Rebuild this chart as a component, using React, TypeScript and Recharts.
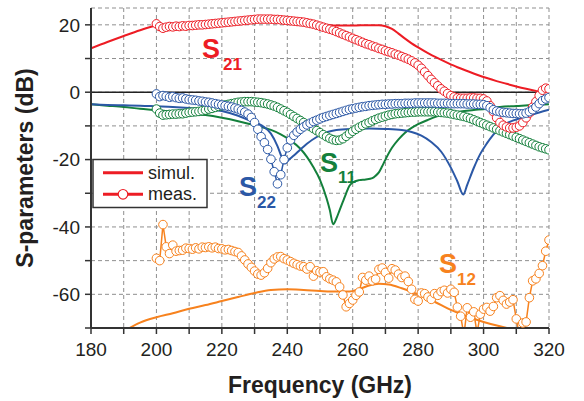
import React from 'react';
import { ComposedChart, Line, XAxis, YAxis, CartesianGrid, ReferenceLine } from 'recharts';

const FONT = '"Liberation Sans", Arial, Helvetica, sans-serif';
const RED = '#ed1c24';
const BLUE = '#2b58a6';
const GREEN = '#14803c';
const ORANGE = '#f7821e';
const INK = '#231f20';

const freqTicks = [180, 190, 200, 210, 220, 230, 240, 250, 260, 270, 280, 290, 300, 310, 320];
const dbTicks = [-70, -60, -50, -40, -30, -20, -10, 0, 10, 20];

// measured sweep, 1 GHz steps
const measFreq = [
  200, 201, 202, 203, 204, 205, 206, 207, 208, 209,
  210, 211, 212, 213, 214, 215, 216, 217, 218, 219,
  220, 221, 222, 223, 224, 225, 226, 227, 228, 229,
  230, 231, 232, 233, 234, 235, 236, 237, 238, 239,
  240, 241, 242, 243, 244, 245, 246, 247, 248, 249,
  250, 251, 252, 253, 254, 255, 256, 257, 258, 259,
  260, 261, 262, 263, 264, 265, 266, 267, 268, 269,
  270, 271, 272, 273, 274, 275, 276, 277, 278, 279,
  280, 281, 282, 283, 284, 285, 286, 287, 288, 289,
  290, 291, 292, 293, 294, 295, 296, 297, 298, 299,
  300, 301, 302, 303, 304, 305, 306, 307, 308, 309,
  310, 311, 312, 313, 314, 315, 316, 317, 318, 319,
  320,
];

const s21Meas = [
  20.3, 19.5, 19.0, 19.3, 19.5, 19.4, 19.6, 19.5, 19.7, 19.6,
  19.8, 19.8, 19.9, 20.0, 20.0, 20.1, 20.2, 20.3, 20.4, 20.5,
  20.6, 20.7, 20.8, 20.9, 21.0, 21.1, 21.2, 21.3, 21.4, 21.5,
  21.6, 21.7, 21.7, 21.7, 21.7, 21.7, 21.6, 21.6, 21.5, 21.4,
  21.3, 21.2, 21.1, 21.0, 20.9, 20.8, 20.6, 20.4, 20.2, 19.9,
  19.6, 19.3, 19.0, 18.7, 18.4, 18.0, 17.6, 17.2, 16.8, 16.4,
  16.0, 15.6, 15.2, 14.8, 14.4, 14.1, 13.7, 13.4, 13.0, 12.7,
  12.3, 12.0, 11.7, 11.3, 11.0, 10.6, 10.2, 9.8, 9.3, 8.7,
  8.0, 7.1, 6.0, 4.9, 3.8, 2.8, 1.9, 1.0, 0.3, -0.4,
  -1.0, -1.4, -1.7, -1.8, -1.8, -1.8, -1.7, -1.7, -1.8, -1.8,
  -2.0, -2.6, -4.0, -5.8, -7.6, -9.0, -9.8, -10.3, -10.6, -10.6,
  -10.4, -10.0, -9.0, -7.6, -6.2, -4.4, -2.8, -1.0, 0.6, 1.2,
  1.0,
];

const s22Meas = [
  -0.5, -1.3, -1.0, -1.2, -1.5, -1.3, -1.6, -1.8, -1.7, -2.0,
  -2.2, -2.3, -2.4, -2.6, -2.7, -2.9, -3.0, -3.2, -3.4, -3.6,
  -3.8, -4.0, -4.2, -4.4, -4.7, -5.0, -5.4, -5.9, -6.5, -7.5,
  -9.0, -11.0, -13.2, -15.0, -17.0, -19.9, -23.6, -27.2, -24.5, -20.0,
  -16.5, -14.2, -12.8, -11.8, -11.0, -10.3, -9.7, -9.2, -8.7, -8.3,
  -7.9, -7.5, -7.2, -6.9, -6.6, -6.3, -6.0, -5.7, -5.4, -5.1,
  -4.9, -4.7, -4.5, -4.3, -4.2, -4.0, -3.9, -3.8, -3.7, -3.6,
  -3.6, -3.5, -3.5, -3.4, -3.4, -3.4, -3.3, -3.3, -3.3, -3.2,
  -3.2, -3.2, -3.2, -3.2, -3.2, -3.2, -3.3, -3.3, -3.3, -3.3,
  -3.4, -3.4, -3.4, -3.4, -3.4, -3.5, -3.5, -3.5, -3.6, -3.6,
  -3.7, -4.0, -4.6, -5.2, -5.6, -5.8, -6.0, -6.1, -6.2, -6.3,
  -6.3, -6.4, -6.4, -6.2, -5.8, -5.2, -4.4, -3.4, -2.5, -2.0,
  -1.6,
];

const s11Meas = [
  -5.0, -6.2, -6.8, -6.7, -6.6, -6.5, -6.5, -6.4, -6.4, -6.2,
  -6.0, -5.9, -5.8, -5.7, -5.5, -5.3, -5.0, -4.8, -4.5, -4.2,
  -4.0, -3.8, -3.6, -3.4, -3.2, -3.0, -2.9, -2.8, -2.8, -2.8,
  -2.9, -3.0, -3.1, -3.3, -3.5, -3.8, -4.1, -4.5, -5.0, -5.5,
  -6.0, -6.6, -7.2, -7.8, -8.4, -9.0, -9.6, -10.2, -10.8, -11.4,
  -12.0, -12.6, -13.2, -13.7, -14.1, -14.3, -14.2, -13.8, -13.1, -12.3,
  -11.6, -11.0, -10.4, -9.9, -9.4, -9.0, -8.5, -8.1, -7.7, -7.4,
  -7.1, -6.8, -6.6, -6.4, -6.3, -6.2, -6.1, -6.0, -5.9, -5.9,
  -5.8, -5.8, -5.8, -5.8, -5.8, -5.8, -5.9, -6.0, -6.1, -6.2,
  -6.4, -6.6, -6.8, -7.0, -7.2, -7.5, -7.8, -8.2, -8.6, -9.0,
  -9.4, -9.8, -10.2, -10.6, -11.0, -11.4, -11.8, -12.2, -12.6, -13.0,
  -13.4, -13.8, -14.2, -14.6, -15.0, -15.4, -15.8, -16.2, -16.5, -16.8,
  -17.1,
];

const s12Meas = [
  -49.3, -50.0, -39.3, -45.9, -47.9, -45.4, -47.2, -47.0, -46.9, -46.3,
  -46.4, -46.6, -46.2, -46.5, -46.0, -46.1, -45.9, -46.2, -46.0, -46.4,
  -46.5, -46.8, -46.7, -47.0, -47.3, -47.6, -48.6, -49.8, -51.0, -52.0,
  -53.1, -54.0, -54.3, -53.6, -52.3, -50.6, -49.5, -48.9, -48.8, -49.4,
  -49.8, -50.3, -50.8, -51.2, -51.6, -51.8, -52.5, -51.8, -54.6, -53.0,
  -53.4, -53.3, -54.8, -55.4, -55.8, -56.3, -57.8, -60.2, -63.7, -62.7,
  -61.7, -60.3, -59.3, -55.0, -55.8, -54.6, -56.0, -55.5, -52.6, -52.2,
  -53.5, -55.2, -52.4, -52.8, -54.0, -55.0, -54.6, -56.2, -58.5, -61.5,
  -62.0, -59.6, -59.8, -60.8, -61.5, -59.8, -60.3, -59.2, -58.8, -59.6,
  -58.5, -59.4, -63.8, -66.5, -72.0, -64.0, -66.8, -65.2, -71.5, -65.9,
  -64.4, -63.9, -65.0, -63.6, -61.0, -60.4, -61.8, -62.9, -62.3, -61.6,
  -67.3, -72.5, -68.5, -68.2, -61.0, -56.0, -55.4, -53.8, -51.5, -47.2,
  -43.9,
];

// simulations
const s21SimFreq = [180, 185, 190, 195, 200, 205, 210, 215, 220, 225, 230, 235, 240, 245, 250, 255, 260, 265, 268, 270, 272, 274, 276, 278, 280, 283, 286, 289, 292, 295, 298, 301, 304, 307, 310, 313, 316, 318, 320];
const s21Sim = [13.0, 14.9, 16.7, 18.4, 19.8, 20.2, 20.5, 20.8, 21.1, 21.3, 21.5, 21.4, 21.0, 20.4, 20.0, 19.8, 19.8, 19.9, 19.9, 19.6, 18.8, 17.4, 15.9, 14.5, 13.3, 11.6, 10.1, 8.7, 7.4, 6.3, 5.2, 4.2, 3.3, 2.5, 1.7, 1.0, 0.4, 0.1, 0.1];

const s11SimFreq = [180, 185, 190, 195, 200, 205, 210, 215, 220, 225, 230, 235, 238, 241, 244, 246, 248, 250, 252, 253, 254, 255, 256, 257, 258, 259, 260, 262, 264, 266, 267, 268, 269, 270, 272, 274, 276, 278, 280, 283, 286, 289, 293, 297, 301, 305, 310, 315, 320];
const s11Sim = [-3.6, -4.0, -4.4, -4.9, -5.3, -5.8, -6.3, -6.8, -7.6, -8.6, -9.8, -11.2, -12.5, -14.3, -16.8, -19.2, -22.3, -26.0, -31.5, -35.0, -39.2, -37.5, -35.0, -32.5, -30.0, -27.8, -26.8, -26.1, -25.9, -25.5, -24.8, -23.8, -22.0, -20.0, -16.5, -14.0, -12.0, -10.6, -9.5, -8.2, -7.1, -6.3, -5.7, -5.3, -4.9, -4.4, -4.1, -3.8, -3.6];

const s22SimFreq = [180, 185, 190, 195, 200, 205, 210, 215, 220, 225, 228, 231, 233, 235, 237, 238.3, 239.3, 240.3, 242, 244, 246, 249, 252, 255, 260, 265, 270, 275, 278, 281, 284, 287, 290, 292, 293.8, 295, 297, 299, 301, 303, 305, 308, 311, 314, 317, 320];
const s22Sim = [-3.6, -3.8, -3.9, -4.0, -4.2, -4.4, -4.7, -5.1, -5.6, -7.0, -8.2, -9.3, -10.4, -12.3, -16.0, -19.3, -21.2, -20.2, -18.8, -17.0, -15.3, -13.3, -11.9, -11.2, -10.9, -10.8, -10.9, -11.2, -11.8, -12.9, -14.8, -17.6, -22.4, -26.5, -30.4, -27.5, -22.5, -18.3, -15.2, -12.6, -10.4, -8.8, -7.8, -6.9, -6.0, -5.2];

const s12SimFreq = [190, 195, 200, 205, 210, 215, 220, 225, 230, 235, 240, 245, 250, 255, 259, 262, 265, 268, 271, 275, 280, 285, 290, 295, 300, 305, 310, 315, 320];
const s12Sim = [-71.0, -68.4, -66.8, -65.6, -64.3, -63.2, -62.0, -60.8, -59.6, -58.7, -58.5, -58.7, -59.0, -59.2, -59.2, -58.4, -57.4, -56.9, -57.1, -58.2, -60.0, -62.2, -64.6, -66.6, -68.2, -69.5, -70.6, -71.5, -72.0];

const pts = (xs: number[], ys: number[]) => xs.map((f, i) => ({ f, v: ys[i] }));

const measDot = (c: string) => ({ r: 4.3, fill: '#fff', stroke: c, strokeWidth: 1 });

const tickStyle = { fontSize: 19, fill: INK, fontFamily: FONT };
const axisStroke = { stroke: '#333', strokeWidth: 2 };

export default function App() {
  return (
    <div style={{ position: 'absolute', left: 0, top: 0, width: 584, height: 401, background: '#fff' }}>
      <ComposedChart width={584} height={401} margin={{ top: 8, right: 35, bottom: 28, left: 0 }}>
        <CartesianGrid stroke="#8f8f8f" strokeDasharray="4 3" strokeWidth={1} />
        <XAxis
          dataKey="f"
          type="number"
          domain={[180, 320]}
          ticks={freqTicks}
          allowDataOverflow
          tickFormatter={(v: number) => (v % 20 === 0 ? String(v) : '')}
          tick={tickStyle}
          tickSize={6}
          tickMargin={9}
          tickLine={{ stroke: '#333', strokeWidth: 1.5 }}
          axisLine={axisStroke}
          height={45}
        />
        <XAxis xAxisId="top" orientation="top" type="number" domain={[180, 320]} height={0} tick={false} axisLine={axisStroke} />
        <YAxis
          domain={[-70, 25]}
          ticks={dbTicks}
          allowDataOverflow
          tickFormatter={(v: number) => (v % 20 === 0 ? String(v) : '')}
          tick={tickStyle}
          tickSize={6}
          tickMargin={5}
          tickLine={{ stroke: '#333', strokeWidth: 1.5 }}
          axisLine={axisStroke}
          width={91}
        />
        <YAxis
          yAxisId="right"
          orientation="right"
          mirror
          width={0}
          domain={[-70, 25]}
          ticks={dbTicks}
          allowDataOverflow
          tickFormatter={() => ''}
          tickSize={5}
          tickLine={{ stroke: '#333', strokeWidth: 1.5 }}
          axisLine={axisStroke}
        />
        <ReferenceLine y={0} stroke="#222" strokeWidth={1.5} />

        <Line data={pts(s12SimFreq, s12Sim)} dataKey="v" type="monotone" stroke={ORANGE} strokeWidth={2} dot={false} isAnimationActive={false} />
        <Line data={pts(s21SimFreq, s21Sim)} dataKey="v" type="monotone" stroke={RED} strokeWidth={2} dot={false} isAnimationActive={false} />
        <Line data={pts(s11SimFreq, s11Sim)} dataKey="v" type="monotone" stroke={GREEN} strokeWidth={2} dot={false} isAnimationActive={false} />
        <Line data={pts(s22SimFreq, s22Sim)} dataKey="v" type="monotone" stroke={BLUE} strokeWidth={2} dot={false} isAnimationActive={false} />

        <Line data={pts(measFreq, s12Meas)} dataKey="v" type="linear" stroke={ORANGE} strokeWidth={1.5} dot={measDot(ORANGE)} isAnimationActive={false} />
        <Line data={pts(measFreq, s11Meas)} dataKey="v" type="linear" stroke={GREEN} strokeWidth={1.5} dot={measDot(GREEN)} isAnimationActive={false} />
        <Line data={pts(measFreq, s21Meas)} dataKey="v" type="linear" stroke={RED} strokeWidth={1.5} dot={measDot(RED)} isAnimationActive={false} />
        <Line data={pts(measFreq, s22Meas)} dataKey="v" type="linear" stroke={BLUE} strokeWidth={1.5} dot={measDot(BLUE)} isAnimationActive={false} />
      </ComposedChart>

      <svg width={584} height={401} style={{ position: 'absolute', left: 0, top: 0, pointerEvents: 'none' }} fontFamily={FONT}>
        {/* trace labels */}
        <text x={202} y={58} fontSize={27} fontWeight="bold" fill={RED}>S</text>
        <text x={223} y={70} fontSize={17} fontWeight="bold" fill={RED}>21</text>
        <text x={239} y={196} fontSize={27} fontWeight="bold" fill={BLUE}>S</text>
        <text x={257} y={208} fontSize={17} fontWeight="bold" fill={BLUE}>22</text>
        <text x={320} y={172} fontSize={27} fontWeight="bold" fill={GREEN}>S</text>
        <text x={338} y={183} fontSize={17} fontWeight="bold" fill={GREEN}>11</text>
        <text x={439} y={273} fontSize={27} fontWeight="bold" fill={ORANGE}>S</text>
        <text x={457} y={285} fontSize={17} fontWeight="bold" fill={ORANGE}>12</text>

        {/* legend */}
        <rect x={93} y={159.5} width={114} height={48} fill="#fff" stroke="#333" strokeWidth={1.5} />
        <line x1={103} y1={172.7} x2={143} y2={172.7} stroke={RED} strokeWidth={3} />
        <text x={148} y={178.5} fontSize={18} fill={INK}>simul.</text>
        <line x1={103} y1={194.3} x2={143} y2={194.3} stroke={RED} strokeWidth={3} />
        <circle cx={123} cy={194.3} r={4.8} fill="#fff" stroke={RED} strokeWidth={1.2} />
        <text x={148} y={200} fontSize={18} fill={INK}>meas.</text>

        {/* axis titles */}
        <text x={320} y={393} fontSize={23} fontWeight="bold" fill={INK} textAnchor="middle">Frequency (GHz)</text>
        <text x={0} y={0} fontSize={23} fontWeight="bold" fill={INK} textAnchor="middle" transform="translate(33,168) rotate(-90)">S-parameters (dB)</text>
      </svg>
    </div>
  );
}
